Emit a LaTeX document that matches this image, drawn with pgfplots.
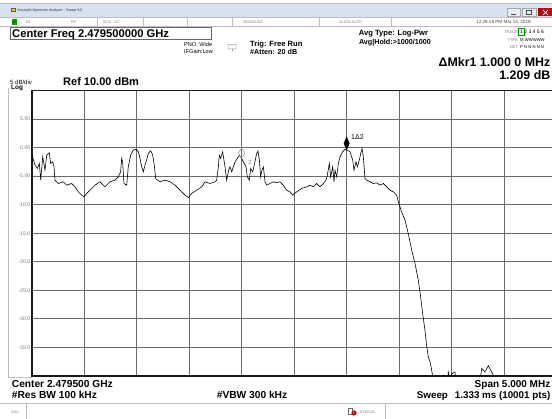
\documentclass[border=0pt]{standalone}
\usepackage{fontspec}
\setmainfont{Liberation Sans}
\usepackage{pgfplots}
\pgfplotsset{compat=1.18}
\definecolor{tbar}{RGB}{214,226,241}
\definecolor{txtgray}{RGB}{125,125,125}
\definecolor{linegray}{RGB}{190,190,190}
\newcommand{\fs}[1]{\fontsize{#1}{#1}\selectfont}
\pgfplotstableread{
f dbm
-2.500 -1.32
-2.471 -3.07
-2.449 -3.65
-2.430 -2.78
-2.417 -5.70
-2.398 -1.61
-2.376 -3.95
-2.360 -1.32
-2.335 -0.91
-2.322 -2.78
-2.303 -2.49
-2.290 -3.36
-2.281 -5.70
-2.249 -6.29
-2.201 -5.99
-2.169 -6.58
-2.122 -6.29
-2.090 -6.87
-2.058 -7.75
-2.026 -8.33
-2.004 -8.63
-1.979 -8.04
-1.947 -7.46
-1.899 -6.58
-1.852 -5.99
-1.804 -6.87
-1.756 -5.99
-1.709 -5.70
-1.677 -5.12
-1.655 -4.24
-1.645 -1.90
-1.636 -2.49
-1.623 -6.29
-1.597 -6.58
-1.582 -3.36
-1.559 -1.32
-1.534 -0.44
-1.508 -0.32
-1.486 -0.73
-1.470 -1.90
-1.454 -3.36
-1.438 -4.24
-1.423 -3.07
-1.407 -2.19
-1.391 -1.02
-1.368 -0.56
-1.349 -1.32
-1.334 -3.07
-1.321 -5.41
-1.302 -5.70
-1.280 -5.99
-1.232 -5.70
-1.184 -5.99
-1.136 -6.58
-1.105 -7.16
-1.073 -7.75
-1.041 -8.33
-1.009 -8.74
-0.978 -8.04
-0.930 -7.46
-0.882 -6.87
-0.850 -5.99
-0.803 -6.29
-0.755 -5.99
-0.739 -5.70
-0.723 -3.36
-0.714 -1.32
-0.701 -1.90
-0.682 -0.73
-0.660 -3.36
-0.644 -5.70
-0.625 -3.95
-0.612 -3.36
-0.596 -4.24
-0.580 -3.36
-0.564 -2.49
-0.542 -1.90
-0.523 -1.32
-0.501 -1.90
-0.485 -2.49
-0.459 -3.36
-0.447 -5.12
-0.428 -5.70
-0.415 -3.65
-0.396 -4.24
-0.374 -2.49
-0.358 -1.02
-0.345 -0.61
-0.332 -2.19
-0.320 -5.12
-0.307 -3.95
-0.294 -3.36
-0.278 -5.99
-0.262 -6.58
-0.231 -6.29
-0.199 -5.99
-0.173 -6.16
-0.135 -6.00
-0.104 -6.58
-0.072 -7.46
-0.040 -7.75
-0.014 -8.33
0.024 -7.75
0.071 -7.16
0.119 -6.87
0.151 -6.58
0.183 -6.87
0.214 -6.29
0.246 -6.87
0.278 -6.29
0.303 -5.70
0.316 -4.82
0.335 -2.78
0.348 -5.12
0.367 -3.36
0.380 -6.00
0.389 -3.95
0.405 -5.12
0.421 -2.78
0.437 -1.61
0.462 -0.73
0.484 -0.32
0.500 -0.44
0.532 -0.73
0.558 -2.19
0.570 -3.95
0.589 -2.49
0.602 -3.36
0.621 -2.19
0.634 -1.02
0.647 -0.15
0.659 -1.61
0.675 -5.41
0.691 -5.70
0.723 -6.00
0.755 -6.29
0.786 -6.17
0.818 -6.58
0.850 -6.29
0.882 -6.87
0.914 -7.46
0.945 -7.75
0.977 -8.33
0.993 -9.50
1.025 -11.3
1.057 -12.7
1.088 -15.1
1.121 -18.0
1.152 -20.3
1.183 -23.2
1.206 -26.2
1.225 -29.1
1.247 -32.0
1.264 -34.9
1.279 -36.7
1.295 -37.5
1.311 -39.0
1.324 -40.5
1.352 -43.0
1.415 -42.0
1.422 -39.8
1.430 -42.0
1.462 -42.0
1.469 -39.3
1.486 -40.6
1.502 -39.6
1.533 -39.3
1.552 -43.0
1.762 -42.0
1.788 -38.7
1.819 -39.3
1.851 -38.2
1.883 -39.3
1.899 -39.9
1.905 -43.0
2.500 -44.0
}\trace
\begin{document}
\begin{tikzpicture}[x=1pt,y=1pt]
\fill[white] (0,0) rectangle (552,419);
% ---- title bar
\fill[tbar] (0,402) rectangle (552,415);
\draw[linegray] (0,415.5) -- (552,415.5);
\fill[black!65] (11,406.5) rectangle (15.5,411);
\fill[yellow!70!orange] (12,407.5) rectangle (14.5,410);
\node[anchor=base west, inner sep=0, font=\fs{3.6}, text=black!80] at (17.5,407.2) {Keysight Spectrum Analyzer - Swept SA};
\draw[gray!70, fill=tbar!60] (507,402.5) rectangle (520,410.5);
\draw[black!70, line width=0.8pt] (511,405) -- (516,405);
\draw[gray!70, fill=tbar!60] (522,402.5) rectangle (536,410.5);
\draw[black!70, line width=0.5pt] (526.5,404.5) rectangle (531.5,408.5);
\fill[red!75!black] (538,402.5) rectangle (553,410.5);
\draw[white, line width=0.8pt] (543,404) -- (548,409) (543,409) -- (548,404);
% ---- status row
\draw[linegray] (0,401.5) -- (552,401.5);
\draw[linegray] (0,392.5) -- (552,392.5);
\fill[green!65!black] (11.5,393.5) rectangle (16.5,400);
\node[anchor=base west, inner sep=0, font=\fs{3}] at (12,395.2) {LX};
\foreach \xx in {97,143,187,232,319,391} {\draw[linegray] (\xx,392.5) -- (\xx,401.5);}
\begin{scope}[every node/.style={anchor=base west, inner sep=0, font=\fs{3.8}, text=txtgray}]
\node at (26,395) {RL};
\node at (71,395) {RF};
\node at (103,395) {50 Ω \ \ AC};
\node at (243,395) {SENSE:INT};
\node at (339,395) {ALIGN AUTO};
\node[font=\fs{4.6}, text=black!75] at (476,395) {12:28:18 PM Mar 13, 2018};
\end{scope}
% ---- header
\draw[gray!80!black, line width=0.8pt] (10,379.7) rectangle (211.7,391.3);
\node[anchor=base west, inner sep=0, font=\bfseries\fs{11.2}] at (12,381.3) {Center Freq 2.479500000 GHz};
\node[anchor=base west, inner sep=0, font=\fs{5.6}] at (184,372.5) {PNO: Wide};
\node[anchor=base west, inner sep=0, font=\fs{5.6}] at (184,365) {IFGain:Low};
\draw[gray!80, line width=0.5pt, rounded corners=0.8pt] (228,370) rectangle (236,374.5);
\draw[gray!80, line width=0.5pt] (232,370) -- (232,367.5);
\node[anchor=base west, inner sep=0, font=\bfseries\fs{7.6}] at (250,372.5) {Trig: Free Run};
\node[anchor=base west, inner sep=0, font=\bfseries\fs{7.2}] at (250,364) {\#Atten: 20 dB};
\node[anchor=base, inner sep=0, font=\bfseries\fs{7.6}] at (393.5,383) {Avg Type: Log-Pwr};
\node[anchor=base, inner sep=0, font=\bfseries\fs{7.2}] at (395,374.3) {Avg|Hold:>1000/1000};
\node[anchor=base east, inner sep=0, font=\fs{4}, text=txtgray] at (518,385.5) {TRACE};
\node[anchor=base east, inner sep=0, font=\fs{4}, text=txtgray] at (518,377.5) {TYPE};
\node[anchor=base east, inner sep=0, font=\fs{4}, text=txtgray] at (518,370) {DET};
\draw[green!60!black, line width=0.5pt] (518.6,384) rectangle (524,390.5);
\node[anchor=base west, inner sep=0, font=\fs{5}] at (520,385.5) {1 2 3 4 5 6};
\node[anchor=base west, inner sep=0, font=\fs{4.2}] at (520,377.5) {M WWWWW};
\node[anchor=base west, inner sep=0, font=\fs{4.2}] at (520,370) {P N N N N N};
\node[anchor=base east, inner sep=0, font=\bfseries\fs{12.4}] at (550.5,352.5) {ΔMkr1 1.000 0 MHz};
\node[anchor=base east, inner sep=0, font=\bfseries\fs{12.4}] at (550.5,339.5) {1.209 dB};
\node[anchor=base west, inner sep=0, font=\fs{6}] at (10,334.5) {5 dB/div};
\node[anchor=base west, inner sep=0, font=\bfseries\fs{6.4}] at (11,329.5) {Log};
\node[anchor=base west, inner sep=0, font=\bfseries\fs{11}] at (63,333.5) {Ref 10.00 dBm};
% left frame
\draw[linegray] (8,331) -- (8,42) -- (32,42);
% ---- plot
\begin{axis}[
  at={(32pt,43pt)}, anchor=south west,
  scale only axis, width=524.4pt, height=285.5pt,
  xmin=-2.5, xmax=2.5, ymin=-40, ymax=10,
  xtick={-2.5,-2,...,2.5}, xticklabels={},
  ytick={-35,-30,...,5},
  yticklabels={{-35.0},{-30.0},{-25.0},{-20.0},{-15.0},{-10.0},{-5.00},{0.00},{5.00}},
  yticklabel style={font=\fs{5.2}, text=txtgray, inner sep=1.5pt},
  major tick length=0pt,
  grid=major,
  grid style={black!58, line width=0.8pt},
  axis line style={black!90, line width=1.3pt},
  clip=true,
]
\addplot[black, line width=0.6pt] table[x=f, y=dbm] {\trace};
\addplot[only marks, mark=diamond, mark size=5pt, mark options={draw=gray!75, line width=0.6pt, xscale=0.9}] coordinates {(-0.501,-0.96)};
\addplot[only marks, mark=diamond*, mark size=6.5pt, mark options={xscale=0.55, fill=black, draw=black}] coordinates {(0.500,0.74)};
\node[anchor=west, inner sep=0, font=\fs{7}] at (axis cs:0.542,1.84) {1Δ2};
\node[anchor=west, inner sep=0, font=\fs{6}, text=gray] at (axis cs:-0.440,-2.54) {2};
\end{axis}
% ---- footer
\node[anchor=base west, inner sep=0, font=\bfseries\fs{10.2}] at (11.7,31.5) {Center 2.479500 GHz};
\node[anchor=base west, inner sep=0, font=\bfseries\fs{10.2}] at (11.7,20.5) {\#Res BW 100 kHz};
\node[anchor=base west, inner sep=0, font=\bfseries\fs{10.2}] at (216.7,20.5) {\#VBW 300 kHz};
\node[anchor=base east, inner sep=0, font=\bfseries\fs{10}] at (550.5,31.5) {Span 5.000 MHz};
\node[anchor=base east, inner sep=0, font=\bfseries\fs{9.8}] at (550.5,20.5) {Sweep\hspace{7pt}1.333 ms (10001 pts)};
\draw[linegray] (0,16) -- (552,16);
\draw[linegray] (26,0) -- (26,16);
\draw[linegray] (385,0) -- (385,16);
\node[anchor=base west, inner sep=0, font=\fs{3.4}, text=txtgray] at (11,5.5) {MSG};
\draw[black!60, line width=0.5pt] (348.5,5) rectangle (352.5,11);
\fill[red!80!black] (354,6) circle (2.6);
\node[font=\bfseries\fs{3.5}, text=white, inner sep=0] at (354,6) {!};
\node[anchor=base west, inner sep=0, font=\fs{4}, text=txtgray] at (359.5,5.5) {STATUS};
\pgfresetboundingbox
\path[use as bounding box] (0,0) rectangle (552,419);
\end{tikzpicture}
\end{document}
